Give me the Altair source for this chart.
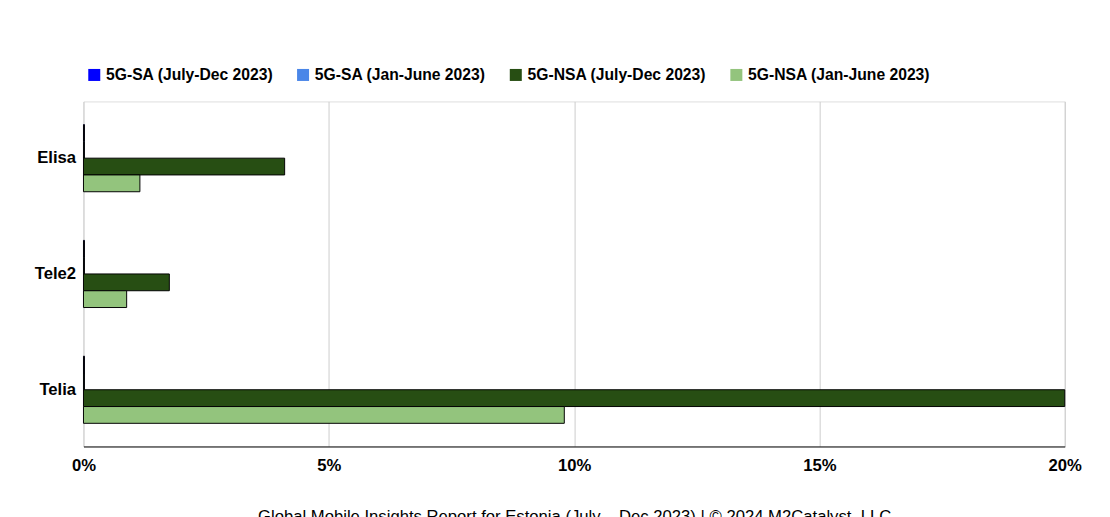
import altair as alt
import pandas as pd

operators = ["Elisa", "Tele2", "Telia"]
series = ["5G-SA (July-Dec 2023)", "5G-SA (Jan-June 2023)",
          "5G-NSA (July-Dec 2023)", "5G-NSA (Jan-June 2023)"]
colors = ["#0000ff", "#4a86e8", "#274e13", "#93c47d"]
values = {
    "5G-SA (July-Dec 2023)": [0.0002, 0.0002, 0.0002],
    "5G-SA (Jan-June 2023)": [0.0002, 0.0002, 0.0002],
    "5G-NSA (July-Dec 2023)": [0.041, 0.0175, 0.20],
    "5G-NSA (Jan-June 2023)": [0.0115, 0.0088, 0.098],
}

rows = []
for s in series:
    for op, v in zip(operators, values[s]):
        rows.append({"Operator": op, "Series": s, "Share": v})
df = pd.DataFrame(rows)

font = "Liberation Sans"

chart = alt.Chart(df).mark_bar(stroke="black", strokeWidth=1).encode(
    y=alt.Y("Operator:N", sort=operators,
            scale=alt.Scale(paddingInner=0.42, paddingOuter=0.2),
            axis=alt.Axis(title=None, labelFontSize=17, labelFontWeight="bold",
                          labelColor="black", ticks=False, domain=False,
                          labelFont=font, labelPadding=8)),
    yOffset=alt.YOffset("Series:N", sort=series),
    x=alt.X("Share:Q", scale=alt.Scale(domain=[0, 0.2]),
            axis=alt.Axis(format="%", values=[0, 0.05, 0.1, 0.15, 0.2],
                          title="Global Mobile Insights Report for Estonia (July \u2013 Dec 2023) | \u00a9 2024 M2Catalyst, LLC",
                          titleFontSize=17, titleFontWeight="normal", titleFont=font,
                          titlePadding=36, titleColor="black",
                          labelFontSize=17, labelFontWeight="bold", labelColor="black",
                          labelFont=font, ticks=False, labelPadding=12,
                          labelAlign="center", labelFlush=False,
                          domainColor="black", gridColor="#cccccc")),
    color=alt.Color("Series:N", sort=series,
                    scale=alt.Scale(domain=series, range=colors),
                    legend=alt.Legend(orient="none", legendX=3, legendY=-35,
                                      direction="horizontal", title=None,
                                      symbolType="square", labelLimit=400,
                                      symbolStrokeWidth=0, symbolSize=150,
                                      labelFontSize=16, labelFontWeight="bold",
                                      labelFont=font, labelColor="black",
                                      columnPadding=22)),
).properties(width=1001, height=352).configure_view(stroke=None).configure_axisY(
    grid=False
).configure(background="white", padding={"left": 26, "top": 55, "right": 20, "bottom": 5})

chart.save("out.html", embed_options={"renderer": "svg", "actions": False})
